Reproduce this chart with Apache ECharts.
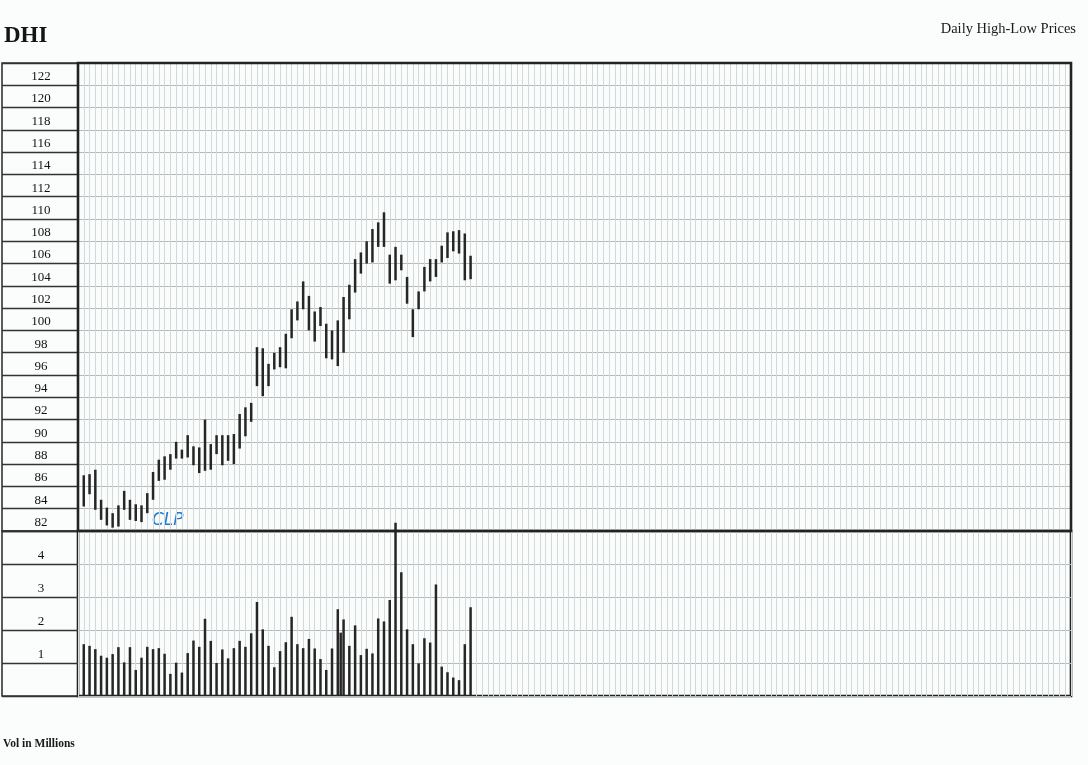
<!DOCTYPE html>
<html><head><meta charset="utf-8">
<script src="https://cdn.jsdelivr.net/npm/echarts@6/dist/echarts.min.js"></script>
<style>html,body{margin:0;padding:0;background:#fbfcfc;}#c{width:1088px;height:765px;}</style>
</head><body><div id="c"></div>
<script>
// ---- data ----
const priceLabels = ['82','84','86','88','90','92','94','96','98','100','102','104','106','108','110','112','114','116','118','120','122'];
const volLabels = ['1','2','3','4'];
const dayCount = 172; // columns on the chart paper
const days = [1,2,3,4,5,6,7,8,9,10,11,12,13,14,15,16,17,18,19,20,21,22,23,24,25,26,27,28,29,30,31,32,33,34,35,36,37,38,39,40,41,42,43,44,45,46,47,48,49,50,51,52,53,54,55,56,57,58,59,60,61,62,63,64,65,66,67,68];
const highs = [87.0,87.1,87.5,84.8,84.1,83.6,84.3,85.6,84.8,84.4,84.3,85.4,87.3,88.4,88.7,88.9,90.0,89.3,90.6,89.6,89.5,92.0,89.8,90.6,90.6,90.6,90.7,92.5,93.1,93.5,98.5,98.4,97.0,98.0,98.5,99.7,101.9,102.6,104.4,103.1,101.7,102.1,100.6,100.0,100.9,103.0,104.1,106.4,107.0,108.0,109.1,109.7,110.6,106.8,107.5,106.8,104.8,101.9,103.5,105.7,106.4,106.4,107.6,108.8,108.9,109.0,108.7,106.7];
const lows = [84.2,85.3,83.9,83.0,82.5,82.3,82.4,83.9,83.0,82.9,82.8,83.6,84.8,86.5,86.6,87.5,88.5,88.5,88.6,87.9,87.2,87.4,87.5,88.9,87.9,88.3,88.0,89.4,90.5,91.8,95.0,94.1,95.0,96.5,96.7,96.6,99.3,100.9,101.9,100.0,99.0,100.4,97.5,97.4,96.8,98.0,101.0,103.4,105.1,106.0,106.1,107.5,107.5,104.2,104.5,105.4,102.4,99.4,101.9,103.5,104.4,104.8,106.1,106.5,107.1,106.9,104.5,104.6];
const volumes = [1.57,1.52,1.42,1.22,1.16,1.27,1.48,1.02,1.48,0.79,1.16,1.49,1.42,1.45,1.28,0.67,1.01,0.71,1.30,1.68,1.49,2.34,1.67,1.00,1.41,1.14,1.45,1.67,1.49,1.90,2.85,2.02,1.52,0.87,1.36,1.63,2.40,1.57,1.45,1.73,1.44,1.12,0.79,1.44,2.63,2.32,1.52,2.14,1.24,1.43,1.29,2.35,2.26,2.91,5.25,3.75,2.02,1.57,0.99,1.75,1.62,3.38,0.89,0.72,0.56,0.48,1.57,2.69];
// an extra hand-drawn volume stroke squeezed between days 45 and 46
const extraVolDays = [45.5];
const extraVolumes = [1.92];

// ---- chart ----
const chart = echarts.init(document.getElementById('c'), null, {renderer: 'canvas'});
const serif = '"Liberation Serif", "DejaVu Serif", serif';
const darkLine = '#222';
const gridV = '#d3d9db';
const gridH = '#b3babc';

function hlItem(params, api) {
  const x = api.value(0);
  const p1 = api.coord([x, api.value(1)]);
  const p2 = api.coord([x, api.value(2)]);
  return {type: 'line', shape: {x1: p1[0], y1: p1[1], x2: p2[0], y2: p2[1]},
          style: {stroke: '#262626', lineWidth: 2.5, lineCap: 'butt'}};
}
function labelFmt(list) {
  return function (v) { const s = String(v); return list.indexOf(s) >= 0 ? s : ''; };
}
const hiddenX = (gi) => ({type: 'value', gridIndex: gi, min: 0, max: 1, show: false});
const plotX = (gi) => ({type: 'value', gridIndex: gi, min: 0, max: dayCount, interval: 1,
  axisLine: {show: false}, axisTick: {show: false}, axisLabel: {show: false},
  splitLine: {show: true, lineStyle: {color: gridV, width: 1}}});
const labelY = (gi, min, max, list) => ({type: 'value', gridIndex: gi, min: min, max: max, interval: min === 0 ? 1 : 2,
  axisLine: {show: false}, axisTick: {show: false},
  axisLabel: {inside: true, margin: 39, align: 'center', verticalAlign: 'bottom', lineHeight: 17,
    color: '#111', fontFamily: serif, fontSize: 13, formatter: labelFmt(list), showMinLabel: true, showMaxLabel: true},
  splitLine: {show: true, lineStyle: {color: '#333', width: 1.4}}});
const plotY = (gi, min, max, interval) => ({type: 'value', gridIndex: gi, min: min, max: max, interval: interval,
  axisLine: {show: false}, axisTick: {show: false}, axisLabel: {show: false},
  splitLine: {show: true, lineStyle: {color: gridH, width: 1}}});

chart.setOption({
  backgroundColor: '#fbfcfc',
  animation: false,
  grid: [
    {left: 2, top: 63, width: 76, height: 468, show: true, borderColor: '#333', borderWidth: 1.6},
    {left: 78, top: 63, width: 993, height: 468, show: true, borderColor: darkLine, borderWidth: 2.6, z: 5},
    {left: 2, top: 531, width: 76, height: 165, show: true, borderColor: '#333', borderWidth: 1.6},
    {left: 78, top: 531, width: 993, height: 165, show: true, borderColor: darkLine, borderWidth: 2.6}
  ],
  xAxis: [hiddenX(0), plotX(1), hiddenX(2), plotX(3)],
  yAxis: [
    labelY(0, 82, 124, priceLabels),
    plotY(1, 82, 124, 2),
    labelY(2, 0, 5, volLabels),
    plotY(3, 0, 5, 1)
  ],
  series: [
    {type: 'custom', name: 'High-Low', xAxisIndex: 1, yAxisIndex: 1, clip: false,
     renderItem: hlItem, encode: {x: 0, y: [1, 2]},
     data: days.map((d, i) => [d, lows[i], highs[i]])},
    {type: 'custom', name: 'Volume', xAxisIndex: 3, yAxisIndex: 3, clip: false,
     renderItem: hlItem, encode: {x: 0, y: [1, 2]},
     data: days.map((d, i) => [d, 0, volumes[i]])},
    {type: 'custom', name: 'Volume extra', xAxisIndex: 3, yAxisIndex: 3, clip: false,
     renderItem: hlItem, encode: {x: 0, y: [1, 2]},
     data: extraVolDays.map((d, i) => [d, 0, extraVolumes[i]])}
  ],
  graphic: [
    {type: 'text', left: 4, top: 25, style: {text: 'DHI', font: 'bold 23px ' + serif, fill: '#151515'}},
    {type: 'text', right: 12, top: 22, style: {text: 'Daily High-Low Prices', font: '14.5px ' + serif, fill: '#1a1a1a'}},
    {type: 'text', left: 3, top: 738, style: {text: 'Vol in Millions', font: 'bold 11.5px ' + serif, fill: '#1a1a1a'}},
    {type: 'text', left: 152, top: 512, style: {text: 'CLP', font: 'italic 17px "DejaVu Sans", sans-serif', fill: '#1f7ad6'}}
  ]
});
</script>
</body></html>
